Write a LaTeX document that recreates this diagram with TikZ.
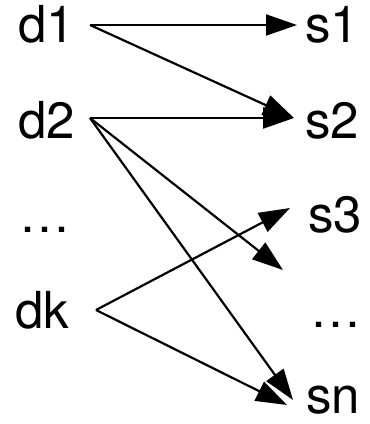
\documentclass[tikz,border=0pt]{standalone}
\usepackage{fontspec}
\setmainfont{TeX Gyre Heros}
\usetikzlibrary{arrows.meta}
\begin{document}
\begin{tikzpicture}[x=1pt,y=-1pt,
  lbl/.style={anchor=base west,inner sep=0pt,font=\fontsize{51}{51}\selectfont},
  conn/.style={line width=2.2pt,-{Triangle[length=31pt,width=21pt]}}]
\useasboundingbox (0,0) rectangle (370,424);
% left labels
\node[lbl] (d1) at (18,42) {d1};
\node[lbl] (d2) at (18,138) {d2};
\node[lbl] (ld) at (19,232) {…};
\node[lbl] (dk) at (15,328) {dk};
% right labels
\node[lbl] (s1) at (305,42) {s1};
\node[lbl] (s2) at (305,138) {s2};
\node[lbl] (s3) at (308,232) {s3};
\node[lbl] (rd) at (310,327) {…};
\node[lbl] (sn) at (306,413) {sn};
% connector ends
\coordinate (d1o) at (90,25);
\coordinate (d2o) at (90,118);
\coordinate (dko) at (96,310);
\coordinate (s1i) at (297,25);
\coordinate (s2i) at (294,118);
\coordinate (s3i) at (290,208);
\coordinate (gap) at (283,270);
\coordinate (sni) at (293,400);
\coordinate (snk) at (287,405);
% connectors
\draw[conn] (d1o) -- (s1i);
\draw[conn] (d1o) -- (s2i);
\draw[conn] (d2o) -- (s2i);
\draw[conn] (d2o) -- (gap);
\draw[conn] (d2o) -- (sni);
\draw[conn] (dko) -- (s3i);
\draw[conn] (dko) -- (snk);
\end{tikzpicture}
\end{document}
